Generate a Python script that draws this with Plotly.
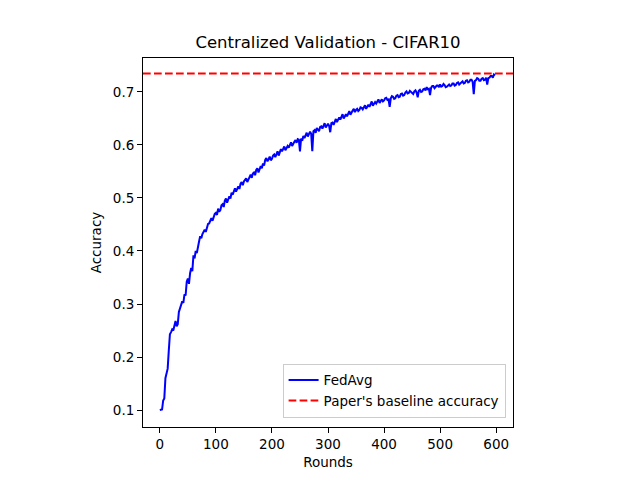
import plotly.graph_objects as go

# accuracy, one value every 2 rounds
rounds = list(range(0, 600, 2))
accuracy = [
    0.100, 0.100, 0.101, 0.118, 0.122, 0.160, 0.168, 0.178, 0.212, 0.243,
    0.247, 0.252, 0.250, 0.262, 0.268, 0.258, 0.262, 0.285, 0.292, 0.296,
    0.305, 0.302, 0.318, 0.316, 0.342, 0.348, 0.338, 0.358, 0.368, 0.362,
    0.392, 0.386, 0.400, 0.396, 0.412, 0.418, 0.428, 0.424, 0.432, 0.438,
    0.440, 0.436, 0.447, 0.451, 0.452, 0.458, 0.462, 0.457, 0.466, 0.470,
    0.472, 0.468, 0.480, 0.474, 0.477, 0.486, 0.488, 0.483, 0.495, 0.499,
    0.491, 0.500, 0.503, 0.499, 0.510, 0.506, 0.514, 0.518, 0.512, 0.519,
    0.522, 0.517, 0.527, 0.530, 0.524, 0.531, 0.534, 0.537, 0.530, 0.536,
    0.540, 0.544, 0.538, 0.546, 0.548, 0.543, 0.553, 0.556, 0.548, 0.557,
    0.560, 0.556, 0.565, 0.561, 0.572, 0.575, 0.569, 0.573, 0.578, 0.571,
    0.574, 0.580, 0.582, 0.577, 0.585, 0.588, 0.580, 0.586, 0.592, 0.588,
    0.594, 0.597, 0.590, 0.596, 0.598, 0.595, 0.602, 0.605, 0.598, 0.603,
    0.606, 0.609, 0.604, 0.611, 0.610, 0.588, 0.612, 0.608, 0.617, 0.613,
    0.620, 0.623, 0.616, 0.622, 0.625, 0.621, 0.588, 0.626, 0.628, 0.623,
    0.632, 0.629, 0.626, 0.634, 0.635, 0.631, 0.638, 0.641, 0.633, 0.638,
    0.640, 0.636, 0.624, 0.641, 0.642, 0.638, 0.646, 0.649, 0.643, 0.648,
    0.652, 0.648, 0.655, 0.658, 0.650, 0.656, 0.658, 0.654, 0.661, 0.664,
    0.657, 0.662, 0.665, 0.668, 0.662, 0.666, 0.668, 0.664, 0.666, 0.671,
    0.670, 0.667, 0.672, 0.675, 0.668, 0.673, 0.676, 0.672, 0.679, 0.682,
    0.674, 0.679, 0.681, 0.678, 0.684, 0.686, 0.679, 0.683, 0.686, 0.682,
    0.684, 0.688, 0.689, 0.685, 0.686, 0.672, 0.688, 0.692, 0.691, 0.687,
    0.688, 0.693, 0.694, 0.690, 0.691, 0.696, 0.697, 0.693, 0.694, 0.699,
    0.701, 0.697, 0.698, 0.702, 0.700, 0.697, 0.696, 0.701, 0.703, 0.699,
    0.690, 0.702, 0.704, 0.700, 0.701, 0.705, 0.706, 0.703, 0.709, 0.705,
    0.706, 0.694, 0.708, 0.711, 0.711, 0.707, 0.709, 0.712, 0.712, 0.709,
    0.714, 0.710, 0.711, 0.715, 0.713, 0.709, 0.710, 0.713, 0.714, 0.711,
    0.712, 0.716, 0.716, 0.712, 0.713, 0.717, 0.718, 0.714, 0.716, 0.719,
    0.720, 0.716, 0.717, 0.721, 0.722, 0.718, 0.719, 0.723, 0.723, 0.719,
    0.696, 0.721, 0.722, 0.726, 0.725, 0.721, 0.721, 0.725, 0.726, 0.722,
    0.723, 0.727, 0.714, 0.726, 0.727, 0.730, 0.730, 0.727, 0.733, 0.731,
]
baseline = 0.735

x_range = [-30, 630]
y_range = [0.068, 0.764]

fig = go.Figure()
fig.add_trace(
    go.Scatter(
        x=rounds,
        y=accuracy,
        mode="lines",
        name="FedAvg",
        line=dict(color="blue", width=2),
    )
)
fig.add_trace(
    go.Scatter(
        x=x_range,
        y=[baseline, baseline],
        mode="lines",
        name="Paper's baseline accuracy",
        line=dict(color="red", width=2, dash="7.7px,3.3px"),
    )
)

axis_style = dict(
    showline=True,
    linecolor="black",
    linewidth=1,
    mirror=True,
    ticks="outside",
    ticklen=5,
    tickwidth=1,
    tickcolor="black",
    showgrid=False,
    zeroline=False,
    tickfont=dict(size=13.5, color="black"),
)

fig.update_xaxes(
    range=x_range,
    tickvals=[0, 100, 200, 300, 400, 500, 600],
    title=dict(text="Rounds", font=dict(size=13.5, color="black"), standoff=6),
    **axis_style,
)
fig.update_yaxes(
    range=y_range,
    tickvals=[0.1, 0.2, 0.3, 0.4, 0.5, 0.6, 0.7],
    tickformat=".1f",
    title=dict(text="Accuracy", font=dict(size=13.5, color="black"), standoff=8),
    **axis_style,
)

# page body adds an 8px margin at top/left, so the figure is 8px smaller
fig.update_layout(
    width=632,
    height=472,
    margin=dict(l=135, r=127, t=50, b=53),
    paper_bgcolor="white",
    plot_bgcolor="white",
    font=dict(family="DejaVu Sans", color="black"),
    title=dict(
        text="Centralized Validation - CIFAR10",
        x=0.5,
        xref="paper",
        y=1 - 34 / 472,
        yanchor="middle",
        font=dict(size=16.5, color="black"),
    ),
    legend=dict(
        x=0.98,
        y=0.025,
        xanchor="right",
        yanchor="bottom",
        bgcolor="rgba(255,255,255,0.8)",
        bordercolor="#cccccc",
        borderwidth=1,
        font=dict(size=13.5, color="black"),
        tracegroupgap=0,
    ),
    showlegend=True,
)

fig.write_html("out.html")
